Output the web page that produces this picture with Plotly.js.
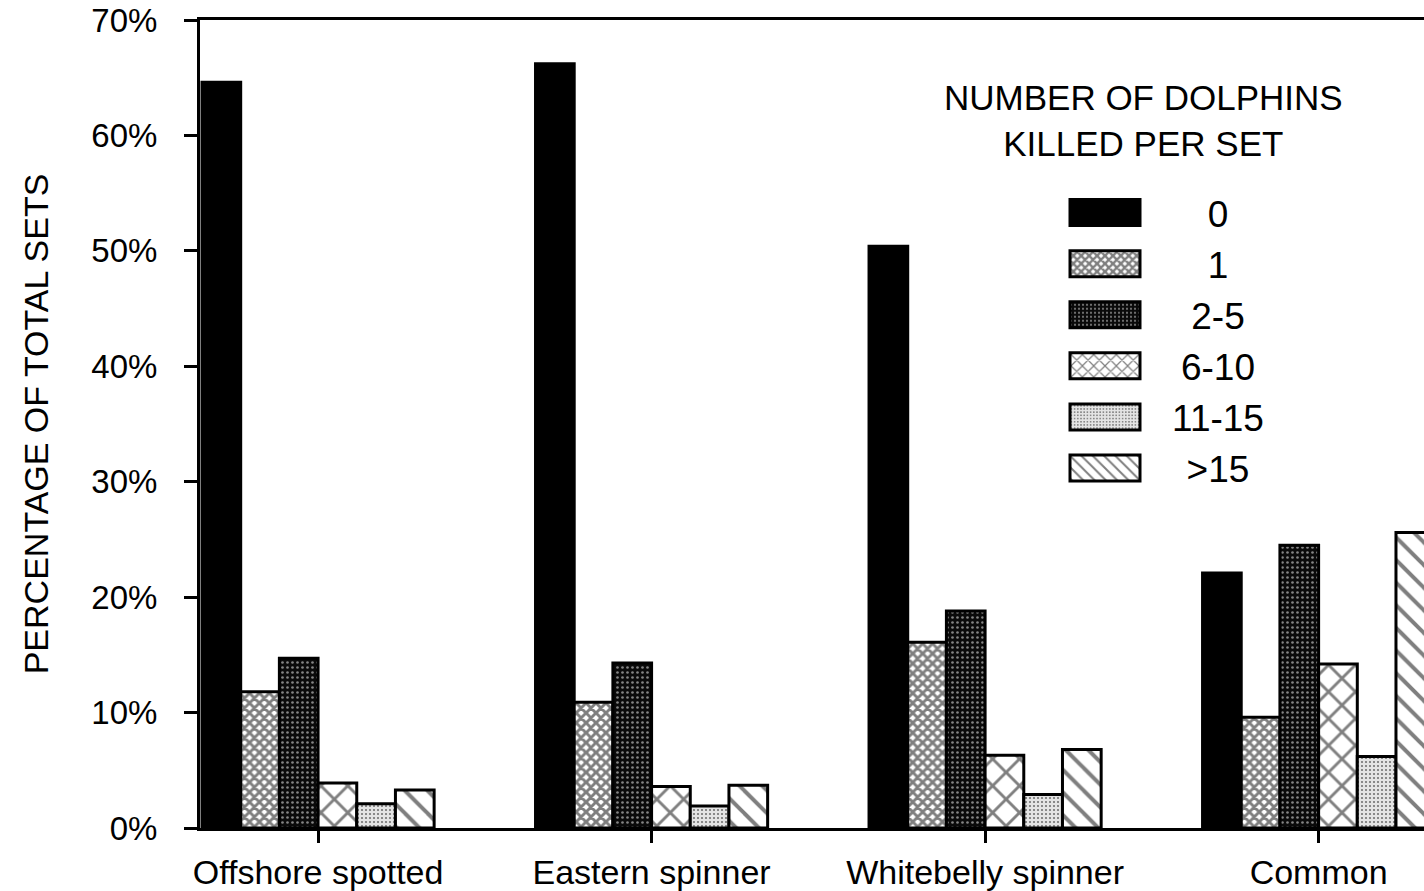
<!DOCTYPE html>
<html>
<head>
<meta charset="utf-8">
<script src="https://cdn.plot.ly/plotly-3.0.1.min.js"></script>
<style>
  html, body { margin: 0; padding: 0; background: #fff; }
  #chart { width: 1424px; height: 891px; }
</style>
</head>
<body>
<div id="chart"></div>
<script>
// ---- data ----
const categories = ["Offshore spotted", "Eastern spinner", "Whitebelly spinner", "Common"];
const seriesNames = ["0", "1", "2-5", "6-10", "11-15", ">15"];
const killed0    = [64.6, 66.2, 50.4, 22.1];
const killed1    = [11.8, 10.9, 16.1, 9.6];
const killed2to5 = [14.7, 14.3, 18.8, 24.5];
const killed6to10  = [3.9, 3.6, 6.3, 14.2];
const killed11to15 = [2.1, 1.9, 2.9, 6.2];
const killedOver15 = [3.3, 3.7, 6.8, 25.6];
const yTickVals = [0, 10, 20, 30, 40, 50, 60, 70];

const seriesValues = [killed0, killed1, killed2to5, killed6to10, killed11to15, killedOver15];

// ---- styles (fill patterns imitating the printed hatching) ----
const styles = [
  { color: "#000000", pattern: { shape: "" } },
  { color: "#ffffff", pattern: { shape: "x", fgcolor: "#000000", bgcolor: "#ffffff", size: 7, solidity: 0.66, fillmode: "overlay" } },
  { color: "#000000", pattern: { shape: ".", fgcolor: "#ffffff", bgcolor: "#0a0a0a", size: 5, solidity: 0.22, fillmode: "overlay" } },
  { color: "#ffffff", pattern: { shape: "x", fgcolor: "#000000", bgcolor: "#ffffff", size: 19, solidity: 0.28, fillmode: "overlay" } },
  { color: "#ffffff", pattern: { shape: ".", fgcolor: "#000000", bgcolor: "#e4e4e4", size: 4, solidity: 0.22, fillmode: "overlay" } },
  { color: "#ffffff", pattern: { shape: "\\", fgcolor: "#000000", bgcolor: "#ffffff", size: 16, solidity: 0.25, fillmode: "overlay" } }
];

const xIdx = categories.map((c, i) => i);

const traces = seriesNames.map((name, k) => ({
  type: "bar",
  name: name,
  x: xIdx,
  y: seriesValues[k],
  marker: {
    color: styles[k].color,
    pattern: styles[k].pattern,
    line: { color: "#000000", width: 3 }
  },
  hoverinfo: "x+y"
}));

const FONT = "Liberation Sans, Arial, Helvetica, sans-serif";

// plot area geometry (px) used to place the legend block
const PLOT_L = 200, PLOT_W = 1224, PLOT_T = 20, PLOT_H = 808;

const layout = {
  width: 1424,
  height: 891,
  margin: { l: PLOT_L, r: 0, t: PLOT_T, b: 63, pad: 0 },
  paper_bgcolor: "#ffffff",
  plot_bgcolor: "#ffffff",
  font: { family: FONT, color: "#000000", size: 33 },
  barmode: "group",
  bargap: 0.304,
  bargroupgap: 0,
  showlegend: true,
  legend: {
    x: (1050 - PLOT_L) / PLOT_W,
    y: 1 - (182 - PLOT_T) / PLOT_H,
    xanchor: "left",
    yanchor: "top",
    font: { family: FONT, size: 37, color: "#000000" },
    bgcolor: "rgba(0,0,0,0)",
    borderwidth: 0,
    itemwidth: 100,
    traceorder: "normal"
  },
  xaxis: {
    range: [-0.354, 3.316],
    tickmode: "array",
    tickvals: xIdx,
    ticktext: categories,
    ticks: "outside",
    ticklen: 12,
    tickwidth: 3,
    tickcolor: "#000000",
    showline: true,
    linecolor: "#000000",
    linewidth: 3,
    mirror: true,
    showgrid: false,
    zeroline: false,
    tickfont: { family: FONT, size: 34, color: "#000000" },
    fixedrange: true
  },
  yaxis: {
    range: [0, 70],
    tickmode: "array",
    tickvals: yTickVals,
    ticktext: yTickVals.map(v => v + "%"),
    ticks: "outside",
    ticklen: 13,
    tickwidth: 3,
    tickcolor: "#000000",
    ticklabelstandoff: 20,
    showline: true,
    linecolor: "#000000",
    linewidth: 3,
    showgrid: false,
    zeroline: false,
    tickfont: { family: FONT, size: 33, color: "#000000" },
    title: { text: "PERCENTAGE OF TOTAL SETS", font: { family: FONT, size: 34, color: "#000000" }, standoff: 33 },
    fixedrange: true
  },
  annotations: [
    {
      text: "NUMBER OF DOLPHINS<br>KILLED PER SET",
      xref: "paper", yref: "paper",
      x: (1143 - PLOT_L) / PLOT_W, y: 1 - (120 - PLOT_T) / PLOT_H,
      xanchor: "center", yanchor: "middle",
      showarrow: false,
      align: "center",
      font: { family: FONT, size: 35, color: "#000000" }
    }
  ]
};

Plotly.newPlot("chart", traces, layout, { staticPlot: true, displayModeBar: false }).then(gd => {
  // enlarge legend swatches to the wide boxes of the printed key, centre the labels
  const legendX = (1050 - PLOT_L) / PLOT_W * PLOT_W + PLOT_L;
  gd.querySelectorAll(".legend [clip-path]").forEach(el => el.removeAttribute("clip-path"));
  gd.querySelectorAll(".legend .traces").forEach(tr => {
    tr.querySelectorAll("path.legendbar, path.legendundefined").forEach(p => {
      p.setAttribute("d", "M35,13H-35V-13H35Z");
      p.style.strokeWidth = "3px";
      p.style.stroke = "#000";
    });
    const t = tr.querySelector("text.legendtext");
    if (t) {
      t.setAttribute("text-anchor", "middle");
      t.setAttribute("x", String(1218 - legendX));
    }
  });
});
</script>
</body>
</html>
